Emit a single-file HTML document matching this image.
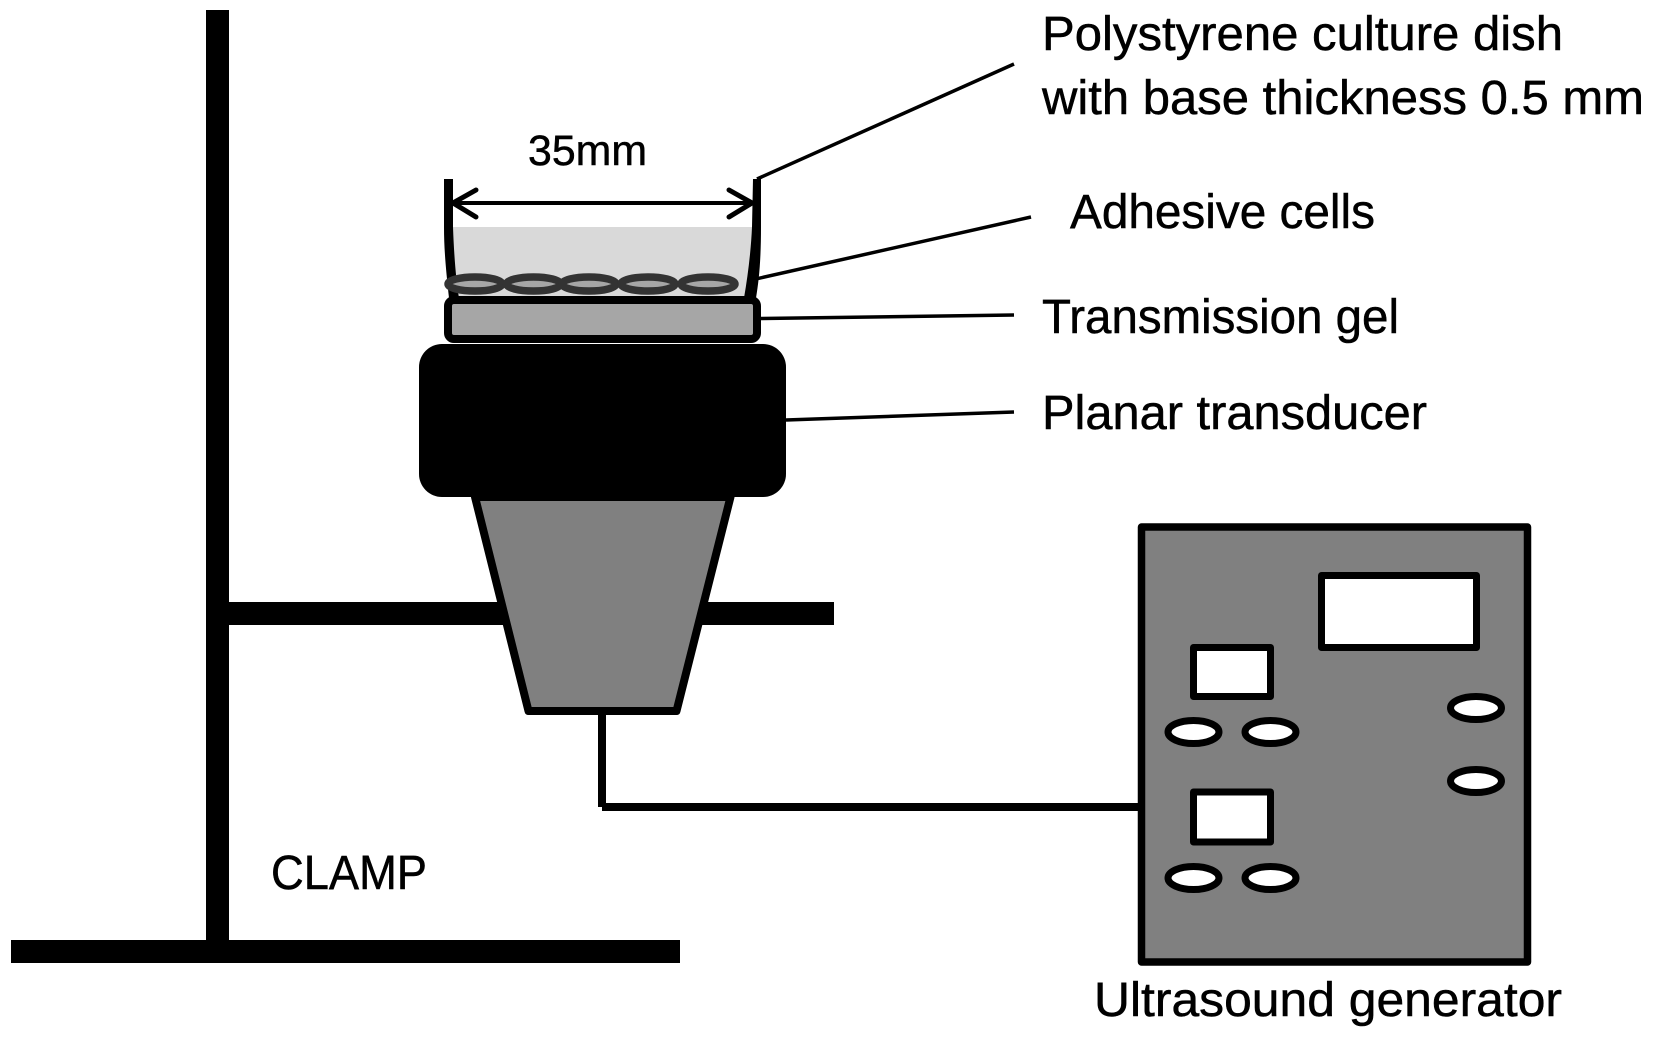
<!DOCTYPE html>
<html>
<head>
<meta charset="utf-8">
<title>Ultrasound exposure setup</title>
<style>
html,body{margin:0;padding:0;background:#fff;width:1654px;height:1037px;overflow:hidden}
svg{display:block}
text{font-family:"Liberation Sans",sans-serif;font-size:48px;fill:#000;stroke:#000;stroke-width:.5px}
</style>
</head>
<body>
<svg width="1654" height="1037" viewBox="0 0 1654 1037" xmlns="http://www.w3.org/2000/svg">
<rect width="1654" height="1037" fill="#fff"/>

<!-- stand -->
<rect x="206" y="10" width="23" height="935" fill="#000"/>
<rect x="11" y="940" width="669" height="23" fill="#000"/>
<rect x="229" y="602" width="605" height="23" fill="#000"/>

<!-- horn -->
<polygon points="475,497 528.5,711 676.5,711 730.5,497" fill="#808080" stroke="#000" stroke-width="8" stroke-linejoin="round"/>

<!-- cable -->
<rect x="598" y="714" width="8" height="93" fill="#000"/>
<rect x="602" y="803" width="540" height="8" fill="#000"/>

<!-- leader lines -->
<g stroke="#000" stroke-width="3.5" fill="none">
<line x1="757" y1="179" x2="1014" y2="64"/>
<line x1="738" y1="283" x2="1031" y2="217"/>
<line x1="760" y1="318.5" x2="1014" y2="315"/>
<line x1="786" y1="420" x2="1014" y2="412"/>
</g>

<!-- liquid -->
<rect x="453" y="227" width="299" height="70" fill="#d9d9d9"/>

<!-- dish walls -->
<path d="M444,179 L453,179 L453,227 C454,255 456,280 459,298 L449,298 C446,270 444,250 444,227Z" fill="#000"/>
<path d="M753,179 L761,179 L761,227 C761,260 759,280 756,298 L744,298 C748,275 751,250 752,227Z" fill="#000"/>

<!-- dimension arrow -->
<g stroke="#000" fill="none" stroke-linecap="round">
<line x1="453" y1="203" x2="752" y2="203" stroke-width="4"/>
<polyline points="476,190 453,203 476,217" stroke-width="5"/>
<polyline points="729,190 752,203 729,217" stroke-width="5"/>
</g>

<!-- gel -->
<rect x="448" y="300" width="309" height="39" rx="6" ry="6" fill="#a6a6a6" stroke="#000" stroke-width="8"/>

<!-- cells -->
<g fill="#a6a6a6" stroke="#333" stroke-width="7.5">
<ellipse cx="475" cy="284" rx="27" ry="7"/>
<ellipse cx="533.5" cy="284" rx="27" ry="7"/>
<ellipse cx="589" cy="284" rx="27" ry="7"/>
<ellipse cx="648" cy="284" rx="27" ry="7"/>
<ellipse cx="708" cy="284" rx="27" ry="7"/>
</g>

<!-- transducer -->
<rect x="419" y="344" width="367" height="153" rx="23" ry="23" fill="#000"/>

<!-- generator -->
<rect x="1141.5" y="527" width="386" height="435" fill="#808080" stroke="#000" stroke-width="7.5" stroke-linejoin="round"/>
<g fill="#fff" stroke="#000" stroke-width="7" stroke-linejoin="round">
<rect x="1321.5" y="575.5" width="155" height="72"/>
<rect x="1193.5" y="647.5" width="77" height="49"/>
<rect x="1193.5" y="792" width="77" height="50"/>
<ellipse cx="1193.5" cy="732" rx="25.5" ry="11.5"/>
<ellipse cx="1270.5" cy="732" rx="25.5" ry="11.5"/>
<ellipse cx="1193.5" cy="878" rx="25.5" ry="11.5"/>
<ellipse cx="1270.5" cy="878" rx="25.5" ry="11.5"/>
<ellipse cx="1476" cy="708" rx="25.5" ry="11.5"/>
<ellipse cx="1476" cy="781" rx="25.5" ry="11.5"/>
</g>

<!-- labels -->
<text x="1042" y="50" textLength="521" lengthAdjust="spacingAndGlyphs">Polystyrene culture dish</text>
<text x="1042" y="114" textLength="602" lengthAdjust="spacingAndGlyphs">with base thickness 0.5 mm</text>
<text x="1070" y="228" textLength="305" lengthAdjust="spacingAndGlyphs">Adhesive cells</text>
<text x="1042" y="333" textLength="357" lengthAdjust="spacingAndGlyphs">Transmission gel</text>
<text x="1042" y="429" textLength="385" lengthAdjust="spacingAndGlyphs">Planar transducer</text>
<text x="1094" y="1016" textLength="468" lengthAdjust="spacingAndGlyphs">Ultrasound generator</text>
<text x="528" y="165" textLength="119" lengthAdjust="spacingAndGlyphs" style="font-size:43px">35mm</text>
<text x="271" y="889" textLength="156" lengthAdjust="spacingAndGlyphs">CLAMP</text>
</svg>
</body>
</html>
